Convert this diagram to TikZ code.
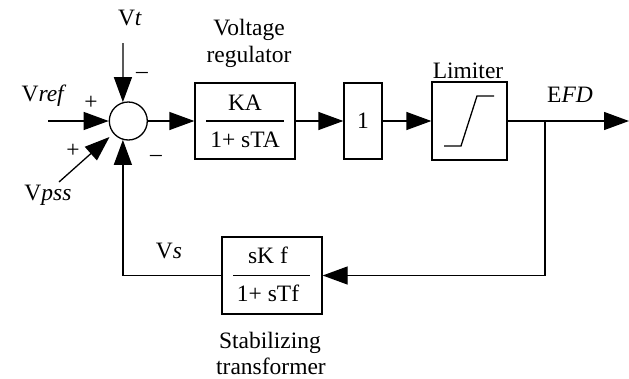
\documentclass[tikz,border=0pt]{standalone}
\usepackage{fontspec}
\setmainfont{Liberation Serif}
\usetikzlibrary{arrows.meta,calc}
\begin{document}
\begin{tikzpicture}[x=1pt,y=-1pt,
  every node/.style={font=\fontsize{23.5}{26}\selectfont},
  blk/.style={draw,line width=1.3pt,inner sep=0pt},
  conn/.style={line width=1.3pt},
  arr/.style={conn,-{Triangle[length=25pt,width=18pt]}},
  lbl/.style={anchor=base,inner sep=0pt}]
\useasboundingbox (0,0) rectangle (629,378);
% summing junction
\node[circle,draw,line width=1.3pt,minimum size=38pt,inner sep=0pt] (S) at (128.3,121) {};
% blocks
\node[blk,minimum width=100pt,minimum height=76pt] (KA) at (245,121) {};
\node[blk,minimum width=38pt,minimum height=76pt] (one) at (363,121) {};
\node[blk,minimum width=75pt,minimum height=78pt] (lim) at (469.5,121) {};
\node[blk,minimum width=100pt,minimum height=77pt] (stab) at (272,275.5) {};
% block contents
\draw[conn] ([xshift=12pt]KA.west) -- ([xshift=-12pt]KA.east);
\node[lbl] (kanum) at (245,110) {KA};
\node[lbl] (kaden) at (245,147) {1+ sTA};
\node (onetxt) at (363,121) {1};
\draw[line width=1.3pt] (444,146) -- (461,146) -- (477,96) -- (494,96);
\draw[conn] ([xshift=12pt]stab.west) -- ([xshift=-13pt]stab.east);
\node[lbl] (stnum) at (268,263) {sK f};
\node[lbl] (stden) at (268,301) {1+ sTf};
% labels
\node[lbl] (vr1) at (249,35) {Voltage};
\node[lbl] (vr2) at (249,62) {regulator};
\node[lbl] (limlbl) at (468,78) {Limiter};
\node[lbl] (sb1) at (270,348) {Stabilizing};
\node[lbl] (sb2) at (271,374) {transformer};
\node[lbl] (vt) at (130,25) {V\textit{t}};
\node[lbl] (vref) at (44,101) {V\textit{ref}};
\node[lbl] (vpss) at (48,200) {V\textit{pss}};
\node[lbl] (efd) at (570,102) {E\textit{FD}};
\node[lbl] (vs) at (169,258) {V\textit{s}};
\node (m1) at (142,75) {--};
\node (p1) at (91,103) {+};
\node (p2) at (73,151) {+};
\node (m2) at (156,158) {--};
% connectors
\coordinate (vt0) at (123,43);
\coordinate (vref0) at (48,121);
\coordinate (pss0) at (59,182);
\coordinate (pss1) at (109.5,137);
\coordinate (out) at (629,121);
\coordinate (br) at (545,121);
\draw[arr] (vt0) -- (S.106);
\draw[arr] (vref0) -- (S.west);
\draw[arr] (pss0) -- (pss1);
\draw[arr] (S.east) -- (KA.west);
\draw[arr] (KA.east) -- (one.west);
\draw[arr] (one.east) -- (lim.west);
\draw[arr] (lim.east) -- (out);
\draw[arr] (br) |- (stab.east);
\draw[arr] (stab.west) -| (S.254);
\end{tikzpicture}
\end{document}
